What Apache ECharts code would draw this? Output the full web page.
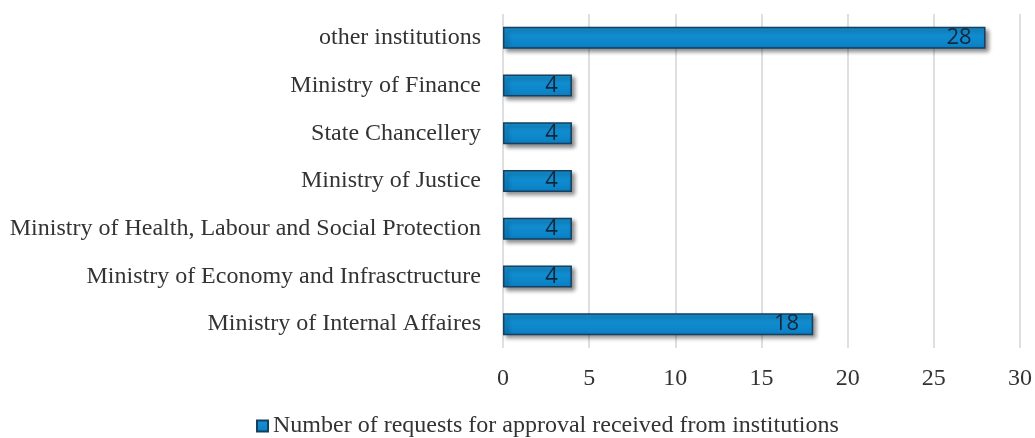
<!DOCTYPE html>
<html><head><meta charset="utf-8">
<script src="https://cdn.jsdelivr.net/npm/echarts@6/dist/echarts.min.js"></script>
<style>html,body{margin:0;padding:0;background:#fff}#c{width:1035px;height:438px}</style>
</head><body><div id="c"></div>
<script>
const categories = ["Ministry of Internal Affaires","Ministry of Economy and Infrasctructure","Ministry of Health, Labour and Social Protection","Ministry of Justice","State Chancellery","Ministry of Finance","other institutions"];
const values = [18,4,4,4,4,4,28];
const seriesName = "Number of requests for approval received from institutions";
const chart = echarts.init(document.getElementById('c'));
chart.setOption({
  animation:false,
  grid:{left:503,right:15,top:14,bottom:90},
  xAxis:{type:'value',min:0,max:30,interval:5,
    axisLine:{show:false},axisTick:{show:false},
    splitLine:{lineStyle:{color:'#d4d4d4',width:1.5}},
    axisLabel:{fontFamily:'Liberation Serif',fontSize:24,color:'#333',margin:19}},
  yAxis:{type:'category',data:categories,
    axisLine:{show:false},axisTick:{show:false},
    axisLabel:{fontFamily:'Liberation Serif',fontSize:24,color:'#333',margin:22}},
  legend:{bottom:-5,left:251,itemWidth:11,itemHeight:11,itemGap:4,
    textStyle:{fontFamily:'Liberation Serif',fontSize:24,color:'#333'},
    data:[{name:seriesName,icon:'rect'}]},
  series:[{name:seriesName,type:'bar',data:values,barWidth:22,
    itemStyle:{color:new echarts.graphic.LinearGradient(0,0,0,1,[{offset:0,color:'#1596d8'},{offset:1,color:'#0a7fc4'}]),
      borderColor:'#163f60',borderWidth:1.5,
      shadowColor:'rgba(0,0,0,0.45)',shadowBlur:4,shadowOffsetX:3,shadowOffsetY:3},
    label:{show:true,position:'insideRight',distance:14,color:'#14283c',fontFamily:'Open Sans',fontSize:22}}]
});
</script></body></html>
